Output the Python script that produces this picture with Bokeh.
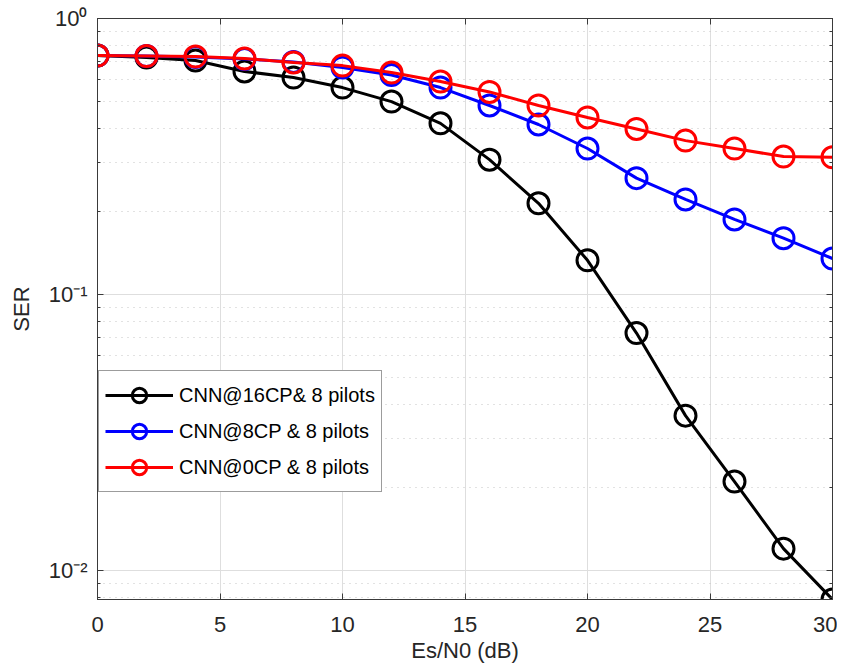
from bokeh.plotting import figure
from bokeh.models import (LinearAxis, LogAxis, FixedTicker, CustomJSTickFormatter,
                          Legend, LegendItem)
from bokeh.embed import file_html
from bokeh.resources import INLINE

# ---------------- data ----------------
snr_db = [0, 2, 4, 6, 8, 10, 12, 14, 16, 18, 20, 22, 24, 26, 28, 30]
ser_16cp = [0.734, 0.722, 0.704, 0.643, 0.611, 0.562, 0.500, 0.417, 0.308,
            0.214, 0.133, 0.0725, 0.0364, 0.0210, 0.0120, 0.00785]
ser_8cp = [0.734, 0.731, 0.725, 0.713, 0.696, 0.665, 0.624, 0.562, 0.484,
           0.413, 0.338, 0.264, 0.221, 0.187, 0.160, 0.135]
ser_0cp = [0.734, 0.731, 0.728, 0.716, 0.693, 0.675, 0.637, 0.591, 0.542,
           0.484, 0.438, 0.398, 0.361, 0.338, 0.316, 0.314]

series_labels = ["CNN@16CP& 8 pilots", "CNN@8CP & 8 pilots", "CNN@0CP & 8 pilots"]
series_colors = ["#000000", "#0000ff", "#ff0000"]

x_ticks = [0, 5, 10, 15, 20, 25, 30]
y_ticks = [0.01, 0.1, 1]
y_tick_labels = ["10\u207b\u00b2", "10\u207b\u00b9", "10\u2070"]
y_minor = [0.008, 0.009] + [k * 0.01 for k in range(2, 10)] + [k * 0.1 for k in range(2, 10)]

FONT = "Liberation Sans"
TXT = "#262626"
AX = "#3a3a3a"

p = figure(frame_width=735, frame_height=581, y_axis_type="log",
           x_range=(0, 30), y_range=(0.00785, 1),
           output_backend="svg", toolbar_location=None,
           min_border_left=97, min_border_right=5,
           min_border_top=18, min_border_bottom=50)

p.background_fill_color = "white"
p.border_fill_color = "white"
p.outline_line_color = AX
p.outline_line_width = 1

xt = FixedTicker(ticks=x_ticks, minor_ticks=[])
yt = FixedTicker(ticks=y_ticks, minor_ticks=y_minor)

ylab_fmt = CustomJSTickFormatter(args=dict(t=y_ticks, l=y_tick_labels), code="""
for (let i = 0; i < t.length; i++) {
  if (Math.abs(tick - t[i]) < 1e-9 * t[i] + 1e-15) return l[i];
}
return '';
""")
blank = CustomJSTickFormatter(code="return '';")

def style_axis(ax):
    ax.axis_line_color = AX
    ax.axis_line_width = 1
    ax.major_tick_line_color = AX
    ax.minor_tick_line_color = AX
    ax.major_tick_in = 6
    ax.major_tick_out = 0
    ax.minor_tick_in = 3
    ax.minor_tick_out = 0
    ax.major_label_text_font = FONT
    ax.major_label_text_font_size = "22px"
    ax.major_label_text_color = TXT
    ax.axis_label_text_font = FONT
    ax.axis_label_text_font_size = "22px"
    ax.axis_label_text_font_style = "normal"
    ax.axis_label_text_color = TXT

xa = p.xaxis[0]
ya = p.yaxis[0]
xa.ticker = xt
ya.ticker = yt
ya.formatter = ylab_fmt
style_axis(xa)
style_axis(ya)
xa.minor_tick_line_color = None
xa.axis_label = "Es/N0 (dB)"
ya.axis_label = "SER"
xa.major_label_standoff = 17
xa.axis_label_standoff = 3
ya.major_label_standoff = 10
ya.axis_label_standoff = 12

top = LinearAxis(ticker=xt, formatter=blank)
right = LogAxis(ticker=yt, formatter=blank)
for ax in (top, right):
    style_axis(ax)
    ax.major_label_standoff = 0
    ax.major_label_text_font_size = "1px"
top.minor_tick_line_color = None
p.add_layout(top, "above")
p.add_layout(right, "right")

# grids
p.xgrid.ticker = xt
p.ygrid.ticker = yt
p.xgrid.grid_line_color = "#dedede"
p.xgrid.grid_line_width = 1
p.ygrid.grid_line_color = "#dedede"
p.ygrid.grid_line_width = 1
p.ygrid.minor_grid_line_color = "#c4c4c4"
p.ygrid.minor_grid_line_dash = "1 5"
p.ygrid.minor_grid_line_width = 1

items = []
for ys, lab, col in zip([ser_16cp, ser_8cp, ser_0cp], series_labels, series_colors):
    ln = p.line(snr_db, ys, line_color=col, line_width=3)
    sc = p.scatter(snr_db, ys, marker="circle", size=21, fill_color=None,
                   line_color=col, line_width=3)
    items.append(LegendItem(label=lab, renderers=[ln, sc]))

legend = Legend(items=items, location=(1, 107))
legend.label_text_font = FONT
legend.label_text_font_size = "20px"
legend.label_text_color = "#000000"
legend.border_line_color = AX
legend.border_line_width = 1
legend.background_fill_color = "white"
legend.background_fill_alpha = 1
legend.glyph_width = 68
legend.glyph_height = 36
legend.label_height = 36
legend.label_standoff = 6
legend.spacing = 0
legend.padding = 6
legend.margin = 0
p.add_layout(legend)

open("out.html", "w").write(file_html(p, INLINE))
